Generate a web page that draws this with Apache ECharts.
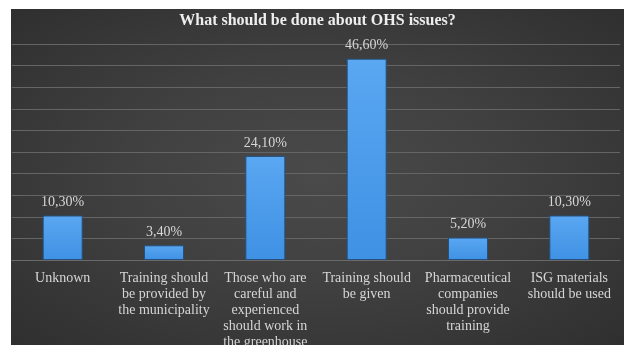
<!DOCTYPE html>
<html><head><meta charset="utf-8">
<script src="https://cdn.jsdelivr.net/npm/echarts@6/dist/echarts.min.js"></script>
<style>
html,body{margin:0;padding:0;background:#fff;width:624px;height:345px;overflow:hidden;}
#bg{position:absolute;left:11px;top:9px;width:613px;height:336px;
background:radial-gradient(ellipse at 50% 50%, #4a4a4a 0%, #404040 45%, #2f2f2f 100%);}
#c{position:absolute;left:11px;top:9px;width:613px;height:336px;}
</style></head>
<body><div id="bg"></div><div id="c"></div>
<script>
var titleText = 'What should be done about OHS issues?';
var categories = [
  'Unknown',
  'Training should\nbe provided by\nthe municipality',
  'Those who are\ncareful and\nexperienced\nshould work in\nthe greenhouse',
  'Training should\nbe given',
  'Pharmaceutical\ncompanies\nshould provide\ntraining',
  'ISG materials\nshould be used'
];
var values = [10.3, 3.4, 24.1, 46.6, 5.2, 10.3];

var chart = echarts.init(document.getElementById('c'), null, {renderer:'canvas'});
chart.setOption({
  backgroundColor: 'transparent',
  animation: false,
  title: {
    text: titleText, left: 'center', top: -1,
    textStyle: {fontFamily: 'Liberation Serif', fontSize: 16, fontWeight: 'bold', color: '#eeeeee'}
  },
  grid: {left: 1, right: 4, top: 35, bottom: 85, containLabel: false, outerBoundsMode: 'none'},
  xAxis: {
    type: 'category', data: categories,
    axisLine: {show: true, lineStyle: {color: '#6a6a6a', width: 1.2}},
    axisTick: {show: false},
    axisLabel: {interval: 0, margin: 10, color: '#d6d6d6', fontFamily: 'Liberation Serif', fontSize: 14, lineHeight: 16}
  },
  yAxis: {
    type: 'value', min: 0, max: 50, interval: 5,
    axisLabel: {show: false}, axisLine: {show: false}, axisTick: {show: false},
    splitLine: {lineStyle: {color: '#656565', width: 1.2}}
  },
  series: [{
    type: 'bar', data: values, barWidth: 40,
    itemStyle: {
      color: new echarts.graphic.LinearGradient(0,0,0,1,[{offset:0,color:'#5aa7f2'},{offset:1,color:'#3f91e4'}]),
      borderColor: '#24517f', borderWidth: 1
    },
    label: {
      show: true, position: 'top', distance: 6,
      formatter: function(p){ return p.value.toFixed(2).replace('.', ',') + '%'; },
      color: '#d6d6d6', fontFamily: 'Liberation Serif', fontSize: 14
    }
  }]
});
</script></body></html>
